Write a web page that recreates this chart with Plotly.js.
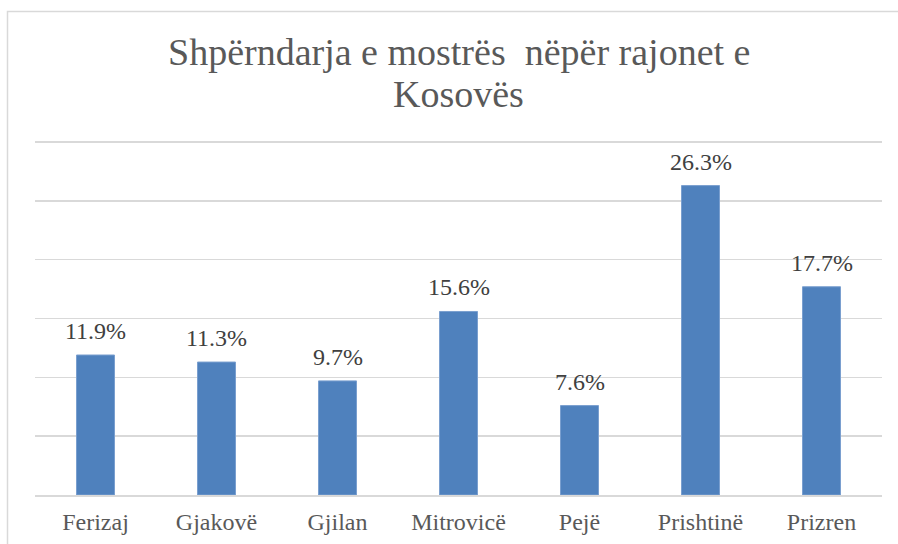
<!DOCTYPE html>
<html>
<head>
<meta charset="utf-8">
<script src="https://cdn.plot.ly/plotly-3.0.1.min.js"></script>
<style>
html,body{margin:0;padding:0;background:#fff;}
#chart{width:898px;height:544px;}
</style>
</head>
<body>
<div id="chart"></div>
<script>
const categories = ["Ferizaj", "Gjakovë", "Gjilan", "Mitrovicë", "Pejë", "Prishtinë", "Prizren"];
const values = [11.9, 11.3, 9.7, 15.6, 7.6, 26.3, 17.7];
const titleLines = ["Shpërndarja e mostrës  nëpër rajonet e", "Kosovës"];

const W = 898, H = 544;
const yMaxTick = 30, yTop = 30.6;
const L = 35, R = 16, B = 49;
const axisPx = H - B;             // baseline pixel
const gridTopPx = 142;            // pixel of the 30% gridline
const T = Math.round(axisPx - (axisPx - gridTopPx) * yTop / yMaxTick);
const plotW = W - L - R, plotH = H - T - B;
const px2x = p => (p - L) / plotW;
const py2y = p => (H - B - p) / plotH;

const serif = "Liberation Serif, Times New Roman, serif";

const annotations = [];
titleLines.forEach((t, i) => {
  annotations.push({
    xref: 'paper', yref: 'paper', x: 0.5, y: py2y(i === 0 ? 52 : 94),
    xanchor: 'center', yanchor: 'middle', showarrow: false,
    text: t, font: {family: serif, size: 38, color: '#595959'}
  });
});
categories.forEach((c, i) => {
  annotations.push({
    xref: 'x', yref: 'y', x: c, y: values[i],
    xanchor: 'center', yanchor: 'bottom', showarrow: false, yshift: 9,
    text: values[i].toFixed(1) + '%',
    font: {family: serif, size: 24, color: '#404040'}
  });
});

const trace = {
  type: 'bar', x: categories, y: values,
  marker: {color: '#4F81BD', line: {color: '#7a9fcf', width: 1}},
  hoverinfo: 'none'
};

const layout = {
  width: W, height: H,
  margin: {l: L, r: R, t: T, b: B, pad: 0},
  paper_bgcolor: '#fff', plot_bgcolor: '#fff',
  showlegend: false,
  bargap: 0.686,
  xaxis: {
    type: 'category', showgrid: false, zeroline: false,
    showline: true, linecolor: '#d9d9d9', linewidth: 1.5,
    ticks: 'outside', ticklen: 5, tickcolor: 'rgba(0,0,0,0)',
    tickfont: {family: serif, size: 24, color: '#595959'}
  },
  yaxis: {
    range: [0, yTop], dtick: 5, tick0: 0, showticklabels: false,
    showgrid: true, gridcolor: '#d9d9d9', gridwidth: 1.5,
    zeroline: false, showline: false, fixedrange: true
  },
  annotations: annotations,
  shapes: [{
    type: 'rect', xref: 'paper', yref: 'paper', layer: 'above',
    x0: px2x(7.5), x1: px2x(910), y0: py2y(560), y1: py2y(11.5),
    line: {color: '#d9d9d9', width: 1.5}
  }]
};

Plotly.newPlot('chart', [trace], layout, {staticPlot: true, displayModeBar: false});
</script>
</body>
</html>
